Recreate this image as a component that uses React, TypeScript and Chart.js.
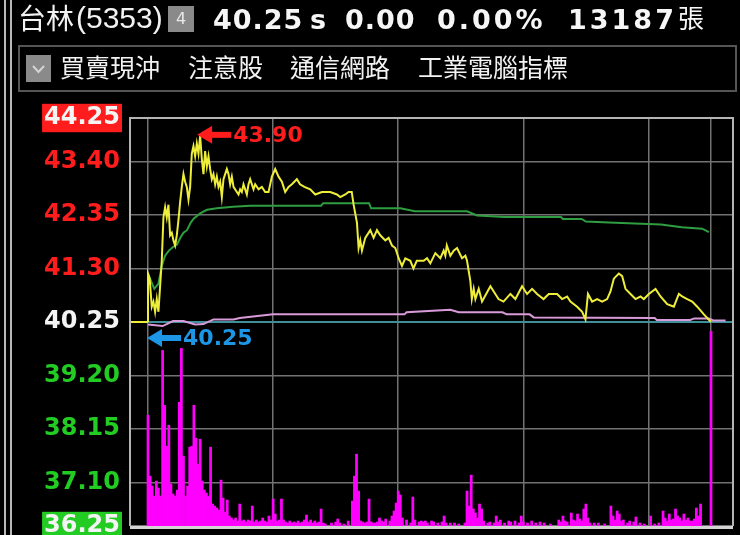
import { useEffect, useRef } from "react";
import { Chart, registerables } from "chart.js";

Chart.register(...registerables);

// ---------- quote header ----------
const stockName = "台林";
const stockCode = "(5353)";
const lastPrice = "40.25";
const change = "0.00";
const changePct = "0.00%";
const totalVolume = "13187";
const volumeUnit = "張";
const tags = ["買賣現沖", "注意股", "通信網路", "工業電腦指標"];

// ---------- price axis ----------
const PREV_CLOSE = 40.25;
const LIMIT_UP = 44.25;
const LIMIT_DOWN = 36.25;
const priceTicks = [36.25, 37.1, 38.15, 39.2, 40.25, 41.3, 42.35, 43.4, 44.25];
// minutes after 09:00 : 09:00 10:00 11:00 12:00 13:00 13:30
const timeGridMinutes = [0, 60, 120, 180, 240, 270];

// ---------- trade price (minutes after 09:00) ----------
const priceTime = [
  0, 0, 0.8, 1.8, 2.6, 3.4, 4.2, 5.0, 5.8, 6.6, 7.4, 8.2, 9.0, 9.8, 10.6, 11.4, 12.2, 13.0, 13.8, 14.6,
  15.4, 16.2, 17.0, 17.8, 18.6, 19.4, 20.2, 21.0, 21.8, 22.6, 23.4, 24.2, 25.0, 25.8, 26.6, 27.4, 28.2, 29.0, 29.8, 30.6,
  31.4, 32.2, 33.0, 33.8, 34.6, 35.4, 36.2, 37.0, 37.8, 38.6, 39.4, 40.2, 41.0, 42.6, 43.4, 44.2, 45.0, 45.8, 46.6, 47.4,
  48.2, 49.0, 50.6, 51.4, 53.0, 54.6, 56.2, 57.8, 59.4, 61.0, 62.6, 64.2, 65.0, 65.8, 67.4, 69.0, 71.4, 72.9, 75.0, 77.8,
  80.2, 83.4, 87.4, 90.6, 92.2, 94.6, 96.2, 97.7, 98.6, 100.2, 101.0, 101.8, 102.6, 104.2, 106.6, 108.2, 109.8, 111.4, 113.8, 115.4,
  117.0, 118.6, 120.2, 121.8, 123.4, 125.8, 127.3, 128.9, 132.2, 133.8, 135.4, 137.8, 140.2, 141.8, 142.6, 143.3, 145.0, 146.6, 148.2, 150.6,
  152.2, 153.0, 154.6, 155.3, 156.2, 157.0, 158.6, 160.2, 164.2, 168.1, 170.5, 173.8, 176.2, 179.4, 181.8, 184.2, 186.6, 189.7, 192.2, 196.2,
  198.6, 201.0, 202.6, 205.8, 208.2, 209.8, 211.0, 213.0, 215.4, 217.8, 220.2, 221.8, 223.4, 225.8, 227.4, 229.0, 231.4, 233.8, 236.2, 237.8,
  240.2, 243.4, 245.8, 249.0, 252.2, 254.6, 256.2, 258.6, 261.0, 263.4, 266.6, 270.0,
];
const priceValue = [
  40.25, 41.2, 41.1, 40.55, 40.65, 40.45, 40.7, 40.45, 40.95, 41.45, 42.3, 42.5, 42.3, 42.55, 41.95, 42.0, 41.85, 41.75, 41.95, 42.25,
  42.6, 42.9, 43.15, 43.0, 42.9, 42.65, 42.9, 43.55, 43.7, 43.5, 43.75, 43.55, 43.9, 43.45, 43.15, 43.6, 43.3, 43.5, 43.25, 43.05,
  43.15, 42.95, 43.1, 42.9, 43.0, 42.7, 43.05, 43.15, 43.25, 43.15, 42.95, 43.1, 42.9, 42.8, 42.75, 42.85, 42.8, 42.95, 42.85, 42.75,
  42.95, 43.05, 42.85, 42.95, 42.85, 42.9, 42.8, 42.8, 43.1, 43.25, 43.1, 43.0, 42.9, 42.8, 42.9, 42.95, 43.05, 42.95, 42.9, 42.85,
  42.75, 42.8, 42.8, 42.75, 42.7, 42.75, 42.8, 42.8, 42.55, 42.2, 41.7, 41.85, 41.65, 41.9, 42.05, 41.9, 42.05, 41.95, 41.85, 41.9,
  41.75, 41.7, 41.5, 41.35, 41.5, 41.45, 41.3, 41.45, 41.45, 41.5, 41.4, 41.6, 41.5, 41.65, 41.55, 41.75, 41.55, 41.65, 41.7, 41.5,
  41.55, 41.45, 41.05, 40.7, 40.9, 40.7, 40.9, 40.65, 40.95, 40.7, 40.65, 40.8, 40.7, 40.95, 40.8, 40.9, 40.8, 40.7, 40.8, 40.8,
  40.7, 40.75, 40.65, 40.55, 40.45, 40.3, 40.8, 40.65, 40.7, 40.65, 40.7, 40.85, 41.1, 41.2, 41.15, 40.9, 40.8, 40.7, 40.75, 40.7,
  40.8, 40.9, 40.75, 40.6, 40.55, 40.8, 40.75, 40.7, 40.65, 40.55, 40.4, 40.25,
];

// ---------- average price (green) ----------
const avgTime = [0, 3, 5, 6.6, 8.2, 10, 12, 13.9, 15.5, 17, 18.7, 20.5, 22, 23.5, 25, 28.3, 33, 40.8, 49, 83, 84, 106, 107, 121, 128, 153, 157.8, 171, 198, 199, 208, 210, 221, 246, 256, 265.8, 269];
const avgValue = [41.2, 40.9, 41.0, 41.35, 41.55, 41.65, 41.72, 41.77, 41.9, 42.0, 42.05, 42.2, 42.28, 42.33, 42.38, 42.45, 42.48, 42.51, 42.53, 42.53, 42.58, 42.58, 42.48, 42.48, 42.42, 42.42, 42.34, 42.31, 42.31, 42.27, 42.27, 42.22, 42.2, 42.16, 42.11, 42.08, 42.01];

// ---------- violet reference line ----------
const refTime = [0, 7, 12, 17, 22.6, 26.6, 31.4, 41, 44, 60, 123, 124, 145, 149, 170, 172, 183, 185, 243, 244, 260, 262, 269, 271, 277];
const refValue = [40.2, 40.17, 40.27, 40.27, 40.2, 40.21, 40.3, 40.3, 40.33, 40.4, 40.4, 40.44, 40.49, 40.44, 40.44, 40.4, 40.4, 40.34, 40.33, 40.29, 40.29, 40.32, 40.32, 40.28, 40.28];

// ---------- per-minute volume (lots) ----------
const volTime = [
  0, 1, 2, 3, 4, 5, 6, 7, 8, 9, 10, 11, 12, 13, 14, 15, 16, 17, 18, 19, 20, 21, 22, 23, 24, 25, 26, 27, 28, 29,
  30, 31, 32, 33, 34, 35, 36, 37, 38, 39, 40, 41, 42, 43, 44, 45, 46, 47, 48, 49, 50, 51, 52, 53, 54, 55, 56, 57, 58, 59,
  60, 61, 62, 63, 64, 65, 66, 67, 68, 69, 70, 71, 72, 73, 74, 75, 76, 77, 78, 79, 80, 81, 82, 83, 84, 85, 88, 90, 91, 92,
  94, 96, 98, 99, 100, 101, 102, 103, 104, 105, 106, 107, 108, 109, 110, 111, 112, 113, 114, 116, 117, 118, 119, 120, 121, 122, 124, 126, 127, 128,
  130, 131, 132, 133, 134, 136, 137, 139, 141, 142, 143, 145, 147, 149, 152, 153, 154, 155, 156, 157, 158, 159, 160, 161, 163, 164, 166, 167, 168, 169,
  171, 173, 174, 176, 178, 179, 180, 182, 184, 186, 188, 190, 193, 197, 198, 199, 200, 201, 203, 204, 205, 206, 207, 208, 209, 210, 211, 212, 214, 216,
  219, 222, 223, 224, 225, 226, 227, 228, 230, 231, 233, 234, 236, 238, 241, 243, 245, 247, 248, 249, 250, 251, 252, 253, 254, 255, 256, 257, 258, 259,
  260, 261, 262, 263, 264, 265, 270,
];
const volLots = [
  333, 150, 120, 90, 135, 114, 90, 528, 363, 240, 303, 126, 96, 90, 108, 372, 534, 210, 90, 120, 237, 240, 363, 264, 186, 261, 135, 108, 99, 90,
  237, 66, 60, 54, 48, 138, 84, 42, 78, 30, 24, 18, 24, 15, 66, 15, 18, 12, 18, 15, 60, 12, 18, 12, 15, 24, 15, 12, 30, 18,
  81, 36, 15, 18, 81, 18, 12, 9, 15, 9, 12, 9, 15, 9, 12, 18, 33, 12, 18, 9, 15, 9, 12, 51, 9, 6, 9, 12, 21, 9,
  6, 15, 75, 150, 216, 105, 15, 12, 9, 12, 81, 12, 9, 9, 12, 24, 15, 12, 21, 15, 30, 45, 69, 105, 93, 24, 18, 9, 87, 18,
  12, 15, 12, 15, 9, 15, 12, 9, 12, 30, 9, 9, 9, 6, 9, 105, 60, 153, 51, 39, 24, 66, 51, 15, 9, 12, 9, 30, 12, 18,
  9, 15, 12, 15, 9, 30, 12, 9, 15, 9, 12, 9, 6, 18, 12, 30, 15, 12, 39, 18, 15, 36, 21, 15, 51, 66, 24, 9, 9, 9,
  6, 60, 30, 18, 45, 36, 15, 18, 9, 15, 12, 27, 9, 6, 30, 6, 9, 45, 24, 15, 36, 18, 21, 51, 30, 24, 15, 36, 18, 24,
  15, 15, 21, 54, 30, 66, 585,
];
const VOL_AXIS_MAX = 1227;

// ---------- styles ----------
const RED = "#ff1c1c";
const GREEN_LABEL = "#22cc22";
const BLUE = "#1e96e6";
const GRID = "#727272";
const TEAL = "#3f8f9a";
const YELLOW = "#eeee3a";
const AVG_GREEN = "#2e9e40";
const VIOLET = "#d99ad9";
const MAGENTA = "#ff00ff";
const X_MIN = -8.64;
const X_MAX = 280.56;

function drawMarker(ctx: CanvasRenderingContext2D, tx: number, ty: number, text: string, color: string) {
  ctx.save();
  ctx.fillStyle = color;
  ctx.beginPath();
  ctx.moveTo(tx, ty);
  ctx.lineTo(tx + 15, ty - 9);
  ctx.lineTo(tx + 15, ty + 9);
  ctx.closePath();
  ctx.fill();
  ctx.fillRect(tx + 13, ty - 3, 21, 6);
  ctx.font = 'bold 22px "DejaVu Sans"';
  ctx.textAlign = "left";
  ctx.textBaseline = "middle";
  ctx.fillText(text, tx + 36, ty + 1);
  ctx.restore();
}

const framePlugin = {
  id: "frame",
  afterDatasetsDraw(chart: any) {
    const { ctx, chartArea } = chart;
    const { left, right, top, bottom } = chartArea;
    ctx.save();
    ctx.strokeStyle = "#b4b4b4";
    ctx.lineWidth = 2;
    ctx.beginPath();
    ctx.moveTo(left, bottom);
    ctx.lineTo(left, top);
    ctx.lineTo(right, top);
    ctx.lineTo(right, bottom);
    ctx.stroke();
    ctx.strokeStyle = "#d4d4d4";
    ctx.lineWidth = 3;
    ctx.beginPath();
    ctx.moveTo(left, bottom + 1.5);
    ctx.lineTo(right, bottom + 1.5);
    ctx.stroke();
    ctx.restore();
  },
};

const markerPlugin = {
  id: "markers",
  afterDraw(chart: any) {
    const { ctx, scales } = chart;
    const x = scales.x;
    const y = scales.y;
    let hi = 0;
    let lo = 0;
    priceValue.forEach((v, i) => {
      if (v > priceValue[hi]) hi = i;
      if (v < priceValue[lo]) lo = i;
    });
    drawMarker(ctx, x.getPixelForValue(priceTime[hi]) - 3, y.getPixelForValue(priceValue[hi]) - 1, priceValue[hi].toFixed(2), RED);
    drawMarker(ctx, x.getPixelForValue(priceTime[lo]) - 1, y.getPixelForValue(priceValue[lo]) + 16, priceValue[lo].toFixed(2), BLUE);
  },
};

function toPoints(xs: number[], ys: number[]) {
  return xs.map((t, i) => ({ x: t, y: ys[i] }));
}

const abs = (extra: any) => ({ position: "absolute", margin: 0, whiteSpace: "nowrap", ...extra });

export default function App() {
  const ref = useRef<HTMLCanvasElement>(null);

  useEffect(() => {
    const config: any = {
      type: "line",
      data: {
        datasets: [
          {
            type: "bar",
            label: "成交量",
            data: toPoints(volTime, volLots),
            xAxisID: "x",
            yAxisID: "yv",
            backgroundColor: MAGENTA,
            borderWidth: 0,
            barPercentage: 1,
            categoryPercentage: 1,
            order: 5,
          },
          {
            label: "ref",
            data: toPoints(refTime, refValue),
            yAxisID: "y",
            borderColor: VIOLET,
            borderWidth: 2,
            pointRadius: 0,
            order: 4,
          },
          {
            label: "均價",
            data: toPoints(avgTime, avgValue),
            yAxisID: "y",
            borderColor: AVG_GREEN,
            borderWidth: 2,
            pointRadius: 0,
            order: 3,
          },
          {
            label: "昨收",
            data: [
              { x: X_MIN, y: PREV_CLOSE },
              { x: 0, y: PREV_CLOSE },
            ],
            yAxisID: "y",
            borderColor: YELLOW,
            borderWidth: 2,
            pointRadius: 0,
            order: 2,
          },
          {
            label: "成交價",
            data: toPoints(priceTime, priceValue),
            yAxisID: "y",
            borderColor: YELLOW,
            borderWidth: 2,
            pointRadius: 0,
            order: 1,
          },
        ],
      },
      options: {
        responsive: false,
        animation: false,
        devicePixelRatio: 1,
        layout: { padding: { top: 118, right: 7, bottom: 9, left: 0 } },
        plugins: { legend: { display: false }, tooltip: { enabled: false } },
        scales: {
          x: {
            type: "linear",
            min: X_MIN,
            max: X_MAX,
            offset: false,
            afterBuildTicks: (s: any) => {
              s.ticks = timeGridMinutes.map((v) => ({ value: v }));
            },
            afterFit: (s: any) => {
              s.height = 0;
              s.paddingLeft = 0;
              s.paddingRight = 0;
            },
            ticks: { display: false },
            grid: { color: GRID, lineWidth: 1.5, drawTicks: false, offset: false },
            border: { display: false },
          },
          y: {
            type: "linear",
            position: "left",
            min: LIMIT_DOWN,
            max: LIMIT_UP,
            afterBuildTicks: (s: any) => {
              s.ticks = priceTicks.map((v) => ({ value: v }));
            },
            afterFit: (s: any) => {
              s.width = 130;
              s.paddingTop = 0;
              s.paddingBottom = 0;
            },
            ticks: {
              callback: (v: any) => Number(v).toFixed(2),
              padding: 10,
              font: { family: "DejaVu Sans", weight: "bold", size: 24, lineHeight: 1.1 },
              color: (c: any) => {
                const v = c.tick ? c.tick.value : 0;
                if (v === LIMIT_UP || v === LIMIT_DOWN || v === PREV_CLOSE) return "#f4f4f4";
                return v > PREV_CLOSE ? RED : GREEN_LABEL;
              },
              showLabelBackdrop: (c: any) => !!c.tick && (c.tick.value === LIMIT_UP || c.tick.value === LIMIT_DOWN),
              backdropColor: (c: any) => (c.tick && c.tick.value === LIMIT_UP ? RED : GREEN_LABEL),
              backdropPadding: { top: 1, bottom: 1, left: 2, right: 2 },
            },
            grid: {
              drawTicks: false,
              color: (c: any) => (c.tick && c.tick.value === PREV_CLOSE ? TEAL : GRID),
              lineWidth: (c: any) => (c.tick && c.tick.value === PREV_CLOSE ? 2 : 1.5),
            },
            border: { display: false },
          },
          yv: { type: "linear", display: false, min: 0, max: VOL_AXIS_MAX },
        },
      },
      plugins: [framePlugin, markerPlugin],
    };
    const chart = new Chart(ref.current as HTMLCanvasElement, config);
    return () => chart.destroy();
  }, []);

  const cjk = '"Noto Sans CJK TC", "Noto Sans CJK SC", sans-serif';
  const num = '"DejaVu Sans", sans-serif';
  const tagLefts = [60, 188, 290, 418];
  const bold = (left: number, spacing: number) =>
    abs({ left, top: 6, fontFamily: num, fontWeight: "bold", fontSize: 27, lineHeight: "27px", letterSpacing: spacing, color: "#f6f6f6" });

  return (
    <div style={{ position: "fixed", left: 0, top: 0, width: 740, height: 535, background: "#000", overflow: "hidden" }}>
      <canvas ref={ref} width={740} height={535} style={{ position: "absolute", left: 0, top: 0, width: 740, height: 535 }} />
      <div style={abs({ left: 4, top: 0, width: 2, height: 535, background: "#b8b8b8" })} />
      <div style={abs({ left: 10, top: 0, width: 2, height: 535, background: "#b8b8b8" })} />

      <span style={abs({ left: 18, top: 3, fontFamily: cjk, fontSize: 28, lineHeight: "28px", color: "#f2f2f2" })}>{stockName}</span>
      <span style={abs({ left: 76, top: 3, fontFamily: '"Liberation Sans Narrow", "Liberation Sans", sans-serif', fontSize: 30, lineHeight: "30px", color: "#f2f2f2" })}>{stockCode}</span>
      <div style={abs({ left: 168, top: 6, width: 26, height: 26, background: "#8a8a8a", color: "#e8e8e8", fontFamily: num, fontSize: 16, lineHeight: "26px", textAlign: "center" })}>4</div>

      <span style={bold(213, 1)}>{lastPrice}</span>
      <span style={bold(310, 0)}>s</span>
      <span style={bold(345, 1)}>{change}</span>
      <span style={bold(437, 3)}>{changePct}</span>
      <span style={bold(568, 3)}>{totalVolume}</span>
      <span style={abs({ left: 678, top: 3, fontFamily: cjk, fontSize: 26, lineHeight: "28px", color: "#f6f6f6" })}>{volumeUnit}</span>

      <div style={abs({ left: 18, top: 45, width: 715, height: 43, border: "2px solid #555" })} />
      <div style={abs({ left: 26, top: 55, width: 25, height: 27, background: "#8a8a8a" })}>
        <svg width="25" height="27" style={{ display: "block" }}>
          <polyline points="7,11 12.5,17 18,11" fill="none" stroke="#d4d4d4" strokeWidth="2" />
        </svg>
      </div>
      {tags.map((t, i) => (
        <span key={t} style={abs({ left: tagLefts[i], top: 54, fontFamily: cjk, fontSize: 25, lineHeight: "25px", color: "#f2f2f2" })}>
          {t}
        </span>
      ))}
    </div>
  );
}
